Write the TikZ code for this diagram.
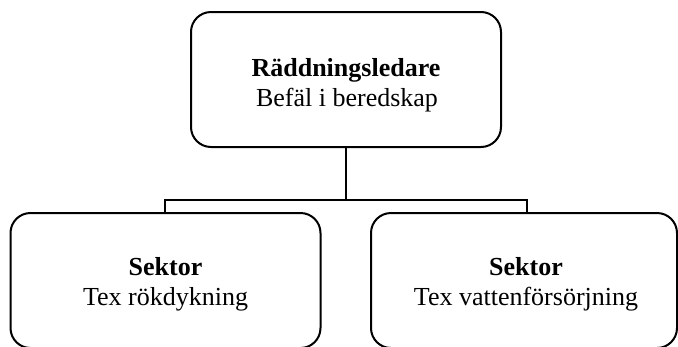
\documentclass[tikz,border=0pt]{standalone}
\usepackage{fontspec}
\setmainfont{Liberation Serif}
\begin{document}
\begin{tikzpicture}[x=1pt,y=-1pt,
  orgbox/.style={draw=black,line width=2pt,rounded corners=20pt,minimum width=310pt,minimum height=135pt,inner sep=0pt},
  headtext/.style={anchor=base,font=\fontsize{26}{30}\selectfont\bfseries,inner sep=0pt},
  subtext/.style={anchor=base,font=\fontsize{26}{30}\selectfont,inner sep=0pt},
  conn/.style={draw=black,line width=2pt}]
\useasboundingbox (0,0) rectangle (678,346);
\node[orgbox] (top) at (346,79.5) {};
\node[orgbox] (left) at (165.5,280.5) {};
\node[orgbox,minimum width=306pt] (right) at (524,280.5) {};
\node[headtext] (toph) at (346,76) {Räddningsledare};
\node[subtext] (tops) at (347,106) {Befäl i beredskap};
\node[headtext] (lefth) at (165.5,275.5) {Sektor};
\node[subtext] (lefts) at (165.5,305.5) {Tex rökdykning};
\node[headtext] (righth) at (526,275.5) {Sektor};
\node[subtext] (rights) at (526,305.5) {Tex vattenförsörjning};
\coordinate (jc) at (346,200);
\coordinate (jl) at (165,200);
\coordinate (jr) at (527,200);
\draw[conn] (top.south -| jc) -- (jc);
\draw[conn] (left.north -| jl) -- (jl) -- (jr) -- (right.north -| jr);
\end{tikzpicture}
\end{document}
